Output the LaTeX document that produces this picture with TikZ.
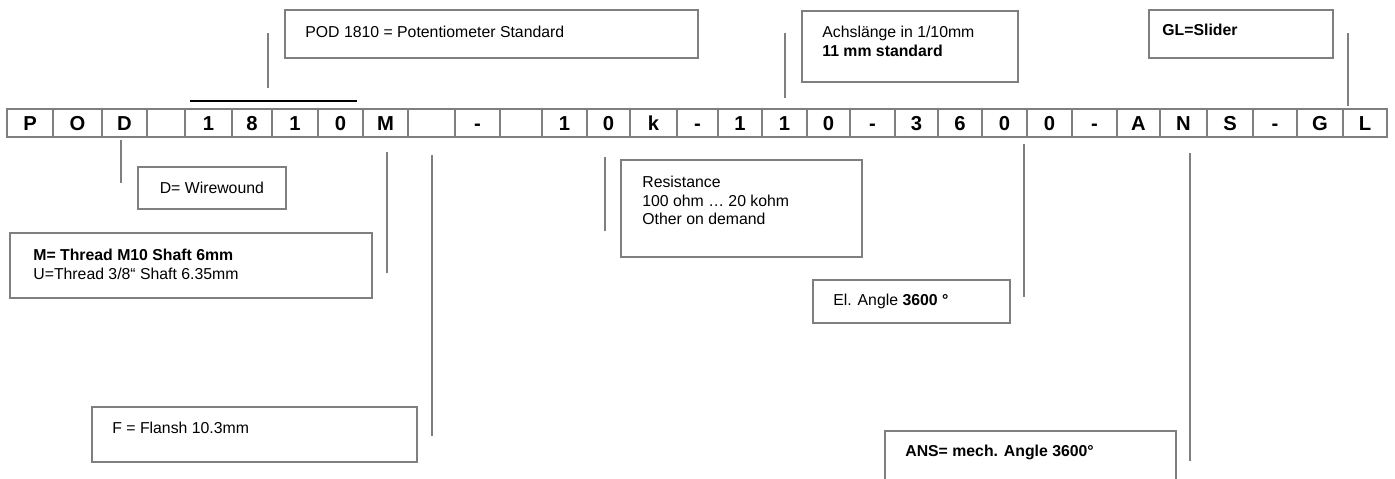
\documentclass[tikz,border=0pt]{standalone}
\usepackage{fontspec}
\setmainfont{Liberation Sans}
\usetikzlibrary{positioning}

\definecolor{frame}{HTML}{7F7F7F}

\tikzset{
  cell/.style={draw=frame, line width=0.9pt, minimum height=0.56cm, inner sep=0pt,
    text height=8.2pt, text depth=0pt, font=\fontsize{11.5}{13}\selectfont\bfseries},
  note/.style={draw=frame, line width=1pt, inner sep=0pt, anchor=north west},
  txt/.style={inner sep=0pt, align=left, font=\fontsize{9}{10.5}\selectfont},
  lead/.style={draw=frame, line width=0.8pt},
}

\begin{document}
\begin{tikzpicture}[x=0.02cm, y=-0.02cm]
    \useasboundingbox (0,0) rectangle (1395,479);

    % the order code, one cell per character
    \foreach \l/\r/\t [count=\i] in {7/53/P, 53/102/O, 102/147/D, 147/185/{}, 185/232/1,
        232/272/8, 272/318/1, 318/363/0, 363/408/M, 408/455/{}, 455/500/-, 500/542/{},
        542/587/1, 587/630/0, 630/677/k, 677/718/-, 718/762/1, 762/807/1, 807/850/0,
        850/895/-, 895/938/3, 938/982/6, 982/1027/0, 1027/1072/0, 1072/1117/-,
        1117/1160/A, 1160/1207/N, 1207/1253/S, 1253/1297/-, 1297/1343/G, 1343/1387/L}
        \node[cell, minimum width={(\r-\l)*0.02cm}] (c\i) at ({(\l+\r)/2},123) {\t};

    % bar over 1810
    \coordinate (bara) at (190,101);
    \coordinate (barb) at (357,101);
    \draw[line width=1.2pt] (bara) -- (barb);

    % explanation boxes
    \node[note, minimum width=8.26cm, minimum height=0.96cm] (podbox) at (284,9) {};
    \node[txt, anchor=west] (podtext) at ([shift={(21,23)}]podbox.north west)
        {POD 1810 = Potentiometer Standard};

    \node[note, minimum width=4.32cm, minimum height=1.42cm] (achsbox) at (801,10) {};
    \node[txt, anchor=north west] (achstext) at ([shift={(21,16)}]achsbox.north west)
        {Achslänge in 1/10mm\\\textbf{11 mm standard}};

    \node[note, minimum width=3.68cm, minimum height=0.96cm] (glbox) at (1148,9) {};
    \node[txt, anchor=west] (gltext) at ([shift={(14,21)}]glbox.north west)
        {\textbf{GL=Slider}};

    \node[note, txt, minimum width=2.96cm, minimum height=0.84cm] (dbox) at (137,166)
        {D= Wirewound};

    \node[note, minimum width=7.24cm, minimum height=1.30cm] (mbox) at (9,232) {};
    \node[txt, anchor=north west] (mtext) at ([shift={(24,17)}]mbox.north west)
        {\textbf{M= Thread M10 Shaft 6mm}\\U=Thread 3/8“ Shaft 6.35mm};

    \node[note, minimum width=4.82cm, minimum height=1.94cm] (resbox) at (620,159) {};
    \node[txt, anchor=north west] (restext) at ([shift={(22,17)}]resbox.north west)
        {Resistance\\100 ohm … 20 kohm\\Other on demand};

    \node[note, minimum width=3.94cm, minimum height=0.86cm] (elbox) at (812,279) {};
    \node[txt, anchor=west] (eltext) at ([shift={(21,22)}]elbox.north west)
        {El. Angle \textbf{3600 °}};

    \node[note, minimum width=6.5cm, minimum height=1.1cm] (fbox) at (91,406) {};
    \node[txt, anchor=west] (ftext) at ([shift={(21,22)}]fbox.north west)
        {F = Flansh 10.3mm};

    \node[note, minimum width=5.82cm, minimum height=1.04cm] (ansbox) at (884,430) {};
    \node[txt, anchor=west] (anstext) at ([shift={(21,22)}]ansbox.north west)
        {\textbf{ANS= mech. Angle 3600°}};

    % leader lines
    \foreach \n/\x/\a/\b in {pod/268/33/88, achs/785/33/98, gl/1348/33/106,
        d/121/140/183, m/387/152/273, f/432/155/436, res/605/157/231,
        el/1024/144/297, ans/1190/153/461} {
        \coordinate (\n-top) at (\x,\a);
        \coordinate (\n-bot) at (\x,\b);
        \draw[lead] (\n-top) -- (\n-bot);
    }
\end{tikzpicture}
\end{document}
